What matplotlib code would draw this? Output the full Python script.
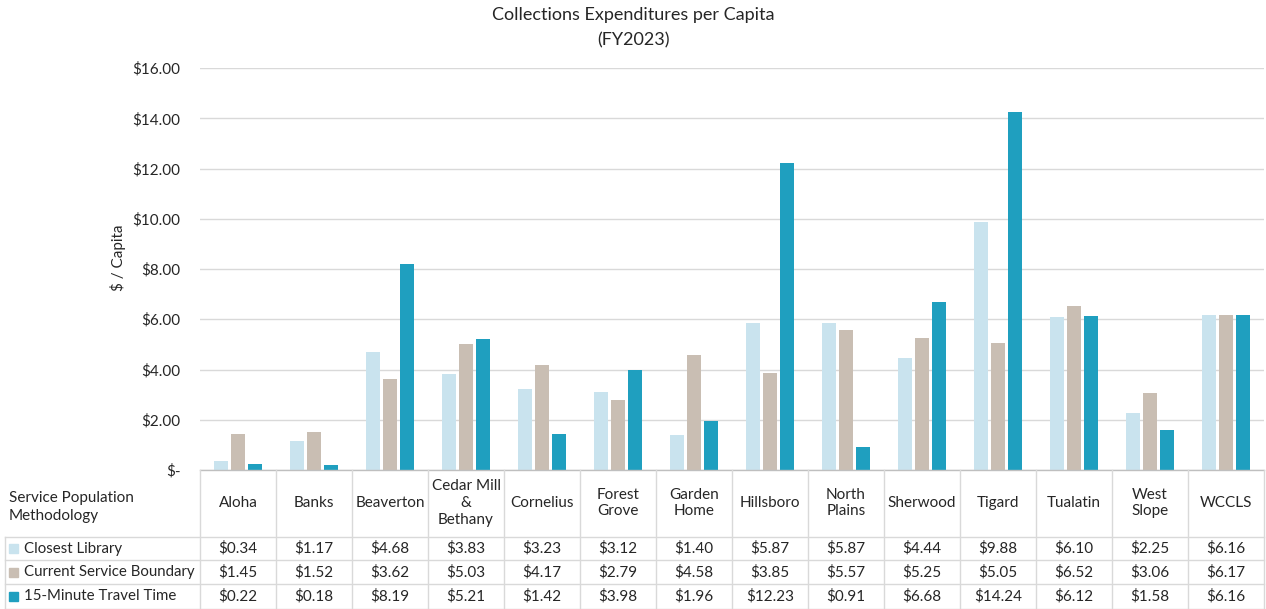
import matplotlib
matplotlib.use("Agg")
import matplotlib.pyplot as plt
from matplotlib.transforms import blended_transform_factory
from matplotlib.ticker import FuncFormatter
import numpy as np

# ---- data -------------------------------------------------------------
libraries = ["Aloha", "Banks", "Beaverton", "Cedar Mill\n&\nBethany", "Cornelius",
             "Forest\nGrove", "Garden\nHome", "Hillsboro", "North\nPlains",
             "Sherwood", "Tigard", "Tualatin", "West\nSlope", "WCCLS"]
series_names = ["Closest Library", "Current Service Boundary", "15-Minute Travel Time"]
closest_library = [0.34, 1.17, 4.68, 3.83, 3.23, 3.12, 1.40, 5.87, 5.87, 4.44, 9.88, 6.10, 2.25, 6.16]
service_boundary = [1.45, 1.52, 3.62, 5.03, 4.17, 2.79, 4.58, 3.85, 5.57, 5.25, 5.05, 6.52, 3.06, 6.17]
travel_time = [0.22, 0.18, 8.19, 5.21, 1.42, 3.98, 1.96, 12.23, 0.91, 6.68, 14.24, 6.12, 1.58, 6.16]
y_ticks = [0, 2, 4, 6, 8, 10, 12, 14, 16]

series_values = [closest_library, service_boundary, travel_time]
colors = ["#C9E3EE", "#C9BEB3", "#1F9FBF"]

TEXT = "#262626"
GRID = "#D9D9D9"
plt.rcParams["font.family"] = ["Lato", "DejaVu Sans"]
FS = 11

W, H = 1266, 609
fig = plt.figure(figsize=(W / 100, H / 100), dpi=100)

# main plot area (pixel box converted to figure fractions)
left_px, right_px, top_px, bottom_px = 200, 1264, 68, 470
ax = fig.add_axes([left_px / W, 1 - bottom_px / H,
                   (right_px - left_px) / W, (bottom_px - top_px) / H])

x = np.arange(len(libraries))
offset, width = 0.226, 0.185
for k, (vals, col) in enumerate(zip(series_values, colors)):
    ax.bar(x + (k - 1) * offset, vals, width=width, color=col,
           edgecolor="none", zorder=3, label=series_names[k])

ax.set_xlim(-0.5, len(libraries) - 0.5)
ax.set_ylim(0, 16)
ax.set_yticks(y_ticks)
ax.yaxis.set_major_formatter(FuncFormatter(lambda v, p: "$-" if v == 0 else f"${v:,.2f}"))
ax.tick_params(axis="y", length=0, pad=14, labelsize=FS, labelcolor=TEXT)
ax.set_xticks([])
ax.grid(axis="y", color=GRID, lw=1, zorder=0)
for s in ax.spines.values():
    s.set_visible(False)

# title and axis label
fig.text(0.5, 1 - 15 / H, "Collections Expenditures per Capita", ha="center", va="center",
         fontsize=13, color=TEXT)
fig.text(0.5, 1 - 40 / H, "(FY2023)", ha="center", va="center", fontsize=13, color=TEXT)
fig.text(118 / W, 1 - 258 / H, "$ / Capita", rotation=90, ha="center", va="center",
         fontsize=FS, color=TEXT)

# ---- data table beneath the plot -----------------------------------------
over = fig.add_axes([0, 0, 1, 1], facecolor="none")
over.set_xlim(0, W)
over.set_ylim(H, 0)
over.axis("off")
tr = blended_transform_factory(ax.transData, over.transData)

table_top = 470
header_bottom = 537
row_edges = [537, 560, 584, H]
line_kw = dict(color=GRID, lw=1, zorder=5)

# top border along the axis and column dividers
over.plot([left_px, right_px], [table_top, table_top], color="#BFBFBF", lw=1, zorder=5)
for b in np.arange(len(libraries) + 1) - 0.5:
    over.plot([b, b], [table_top, H], transform=tr, **line_kw)
# row separators across the legend column too
for yy in row_edges[:-1]:
    over.plot([5, right_px], [yy, yy], **line_kw)
over.plot([5, 5], [header_bottom, H], **line_kw)
over.plot([5, right_px], [H - 0.5, H - 0.5], **line_kw)

# header cells
over.text(9, 507, "Service Population\nMethodology", ha="left", va="center",
          fontsize=FS, color=TEXT, linespacing=1.3)
for i, name in enumerate(libraries):
    over.text(i, 503, name, transform=tr, ha="center", va="center",
              fontsize=FS, color=TEXT, linespacing=1.25)

# value rows with legend keys
row_centers = [(row_edges[r] + row_edges[r + 1]) / 2 for r in range(3)]
for r, (name, vals, col) in enumerate(zip(series_names, series_values, colors)):
    yc = row_centers[r]
    over.add_patch(plt.Rectangle((9, yc - 4.5), 9, 9, color=col, zorder=6))
    over.text(24, yc, name, ha="left", va="center", fontsize=10.8, color=TEXT)
    for i, v in enumerate(vals):
        over.text(i, yc, f"${v:,.2f}", transform=tr, ha="center", va="center",
                  fontsize=FS, color=TEXT)

fig.savefig("out.png", dpi=100)
